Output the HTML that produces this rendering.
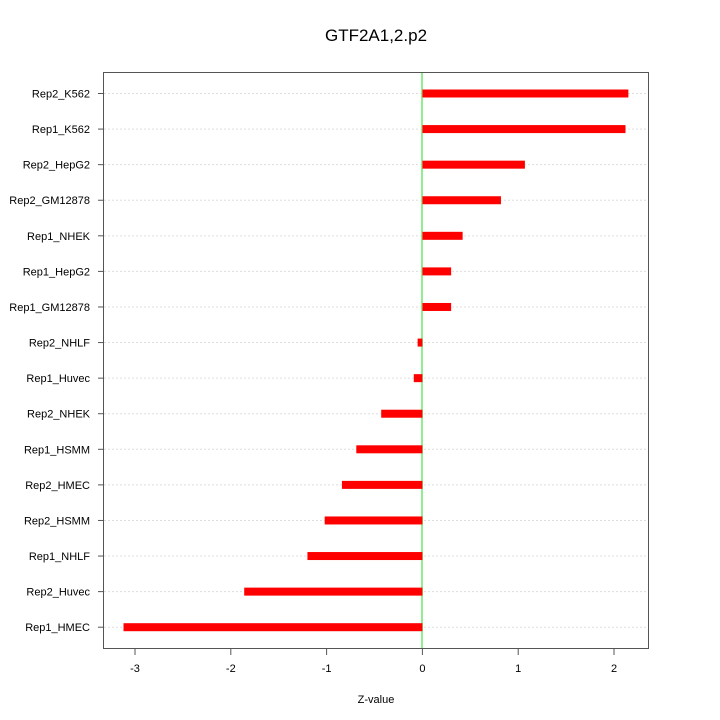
<!DOCTYPE html>
<html><head><style>body{margin:0;background:#fff}svg{display:block;font-family:"Liberation Sans",sans-serif}</style></head>
<body>
<svg width="720" height="720" viewBox="0 0 720 720">
<text x="376" y="41" font-size="17" text-anchor="middle">GTF2A1,2.p2</text>
<g id="grid" stroke="#dddddd" stroke-dasharray="2,2" stroke-width="1"></g>
<line x1="422" y1="72" x2="422" y2="648" stroke="#90ee90" stroke-width="2"/>
<g id="bars" fill="#ff0000"></g>
<rect x="103.5" y="72.5" width="545" height="576" fill="none" stroke="#555" stroke-width="1"/>
<g id="labels" font-size="11" text-anchor="end" fill="#000"></g>
<g id="xt" font-size="11" text-anchor="middle"></g>
<text x="376" y="703" font-size="11" text-anchor="middle">Z-value</text>
</svg>
<script>
var d=[["Rep2_K562",2.15],["Rep1_K562",2.12],["Rep2_HepG2",1.07],["Rep2_GM12878",0.82],["Rep1_NHEK",0.42],["Rep1_HepG2",0.30],["Rep1_GM12878",0.30],["Rep2_NHLF",-0.05],["Rep1_Huvec",-0.09],["Rep2_NHEK",-0.43],["Rep1_HSMM",-0.69],["Rep2_HMEC",-0.84],["Rep2_HSMM",-1.02],["Rep1_NHLF",-1.2],["Rep2_Huvec",-1.86],["Rep1_HMEC",-3.12]];
var ns="http://www.w3.org/2000/svg";function el(t,a,p){var e=document.createElementNS(ns,t);for(var k in a)e.setAttribute(k,a[k]);document.getElementById(p).appendChild(e);return e;}
var x0=422.4,s=95.8;
d.forEach(function(r,i){var y=93.5+i*35.58;
el("line",{x1:104,x2:648,y1:y,y2:y},"grid");
var v=x0+r[1]*s;el("rect",{x:Math.min(x0,v),y:y-4,width:Math.abs(v-x0),height:8},"bars");
el("line",{x1:98,x2:103,y1:y,y2:y,stroke:"#555"},"labels");
var t=el("text",{x:90,y:y+4},"labels");t.textContent=r[0];});
for(var k=-3;k<=2;k++){var x=x0+k*s;el("line",{x1:x,x2:x,y1:648,y2:655,stroke:"#555"},"xt");var t=el("text",{x:x,y:672},"xt");t.textContent=k;}
el("line",{x1:x0-3*s,x2:x0+2*s,y1:648.5,y2:648.5,stroke:"#555"},"xt");
</script>
</body></html>
